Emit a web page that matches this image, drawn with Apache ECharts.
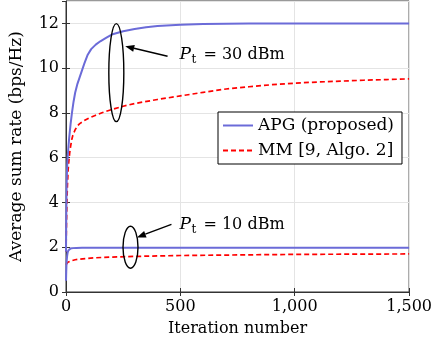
<!DOCTYPE html>
<html>
<head>
<meta charset="utf-8">
<script src="https://cdn.jsdelivr.net/npm/echarts@6/dist/echarts.min.js"></script>
<style>
  html, body { margin: 0; padding: 0; background: #fff; }
  #chart { width: 435px; height: 349px; }
</style>
</head>
<body>
<div id="chart"></div>
<script>
// data
var itApg30 = [0, 1, 2, 3, 5, 7, 10, 14, 20, 26, 33, 40, 50, 60, 70, 80, 95, 110, 130, 150, 175, 200, 250, 300, 350, 400, 500, 600, 800, 1000, 1250, 1500];
var apg30 = [1.8, 3.2, 4.2, 4.9, 5.6, 6.0, 6.4, 6.9, 7.5, 8.0, 8.5, 8.9, 9.3, 9.6, 9.9, 10.2, 10.6, 10.85, 11.05, 11.2, 11.35, 11.5, 11.65, 11.75, 11.83, 11.88, 11.94, 11.97, 11.99, 12.0, 12.0, 12.0];
var itMm30 = [0, 2, 4, 6, 9, 12, 16, 20, 25, 30, 40, 50, 60, 80, 100, 130, 160, 200, 250, 300, 400, 500, 600, 700, 800, 900, 1000, 1100, 1200, 1300, 1400, 1500];
var mm30 = [1.8, 3.0, 4.0, 4.7, 5.4, 5.8, 6.2, 6.5, 6.8, 7.0, 7.25, 7.42, 7.52, 7.66, 7.77, 7.9, 8.02, 8.15, 8.3, 8.42, 8.6, 8.76, 8.92, 9.07, 9.17, 9.26, 9.33, 9.38, 9.42, 9.46, 9.49, 9.52];
var itApg10 = [0, 1, 2, 3, 5, 7, 10, 14, 20, 30, 45, 70, 150, 500, 1000, 1500];
var apg10 = [0.5, 0.9, 1.2, 1.4, 1.62, 1.75, 1.85, 1.91, 1.94, 1.96, 1.97, 1.98, 1.98, 1.98, 1.98, 1.98];
var itMm10 = [0, 3, 8, 15, 25, 40, 60, 90, 130, 200, 300, 400, 500, 700, 1000, 1250, 1500];
var mm10 = [1.22, 1.28, 1.33, 1.37, 1.40, 1.44, 1.47, 1.5, 1.53, 1.56, 1.59, 1.61, 1.63, 1.65, 1.68, 1.69, 1.7];
var xTicks = [0, 500, 1000, 1500];
var names = ['APG (proposed)', 'MM [9, Algo. 2]'];

function pairs(xs, ys) {
    var out = [];
    for (var i = 0; i < xs.length; i++) out.push([xs[i], ys[i]]);
    return out;
}

var font = 'DejaVu Serif';
var fs = 16;
var blue = '#6b6bd8';
var red = '#ff0000';

var myChart = echarts.init(document.getElementById('chart'));

function mkSeries(name, data, color, dashed) {
    return {
        name: name,
        type: 'line',
        data: data,
        symbol: 'none',
        lineStyle: { color: color, width: dashed ? 1.7 : 2, type: dashed ? [5, 3] : 'solid' },
        itemStyle: { color: color },
        z: dashed ? 3 : 4
    };
}

var option = {
    animation: false,
    grid: { left: 65, right: 23, top: 1, bottom: 57, show: true, borderColor: '#333', borderWidth: 1 },
    legend: {
        data: names,
        orient: 'vertical',
        left: 218, top: 112,
        backgroundColor: '#fff',
        borderColor: '#000', borderWidth: 1,
        padding: [5, 8, 5, 4],
        itemGap: 8,
        itemWidth: 30, itemHeight: 14,
        itemStyle: { opacity: 0 },
        textStyle: { fontFamily: font, fontSize: 17, color: '#000' }
    },
    xAxis: [{
        type: 'value', min: 0, max: 1500, interval: 500,
        name: 'Iteration number', nameLocation: 'middle', nameGap: 29,
        nameTextStyle: { fontFamily: font, fontSize: fs, color: '#000' },
        axisLine: { lineStyle: { color: '#333' } },
        axisTick: { inside: true, length: 4, lineStyle: { color: '#333' } },
        axisLabel: {
            fontFamily: font, fontSize: fs, color: '#000', margin: 7,
            formatter: function (v) { return xTicks.indexOf(v) >= 0 ? v.toLocaleString('en-US') : ''; }
        },
        splitLine: { lineStyle: { color: '#e4e4e4' } }
    }, {
        type: 'value', min: 0, max: 1500, interval: 500, position: 'top',
        axisLine: { show: false },
        axisTick: { inside: true, length: 4, lineStyle: { color: '#333' } },
        axisLabel: { show: false }, splitLine: { show: false }
    }],
    yAxis: [{
        type: 'value', min: 0, max: 13, interval: 2,
        name: 'Average sum rate (bps/Hz)', nameLocation: 'middle', nameGap: 41,
        nameTextStyle: { fontFamily: font, fontSize: 17, color: '#000' },
        axisLine: { show: true, lineStyle: { color: '#333' } },
        axisTick: { show: true, inside: true, length: 4, lineStyle: { color: '#333' } },
        axisLabel: { fontFamily: font, fontSize: fs, color: '#000', margin: 7, showMaxLabel: false },
        splitLine: { lineStyle: { color: '#e4e4e4' } }
    }, {
        type: 'value', min: 0, max: 13, interval: 2, position: 'right',
        axisLine: { show: false },
        axisTick: { show: true, inside: true, length: 4, lineStyle: { color: '#333' } },
        axisLabel: { show: false }, splitLine: { show: false }
    }],
    series: [
        mkSeries(names[0], pairs(itApg30, apg30), blue, false),
        mkSeries(names[1], pairs(itMm30, mm30), red, true),
        mkSeries(names[0], pairs(itApg10, apg10), blue, false),
        mkSeries(names[1], pairs(itMm10, mm10), red, true)
    ]
};
myChart.setOption(option);

// annotations placed in data coordinates
function px(x, y) { return myChart.convertToPixel({ gridIndex: 0 }, [x, y]); }

function annotation(ell, ry, head, tail, textPos, label) {
    var c = px(ell[0], ell[1]);
    var h = px(head[0], head[1]);
    var t = px(tail[0], tail[1]);
    var p = px(textPos[0], textPos[1]);
    var ang = Math.atan2(h[1] - t[1], h[0] - t[0]);
    var L = 9, W = 3.5;
    var bx = h[0] - L * Math.cos(ang), by = h[1] - L * Math.sin(ang);
    var nx = -Math.sin(ang) * W, ny = Math.cos(ang) * W;
    return [
        { type: 'ellipse', shape: { cx: c[0], cy: c[1], rx: 7.5, ry: ry }, style: { fill: null, stroke: '#000', lineWidth: 1.4 }, z: 10 },
        { type: 'line', shape: { x1: t[0], y1: t[1], x2: bx, y2: by }, style: { stroke: '#000', lineWidth: 1.4 }, z: 10 },
        { type: 'polygon', shape: { points: [[h[0], h[1]], [bx + nx, by + ny], [bx - nx, by - ny]] }, style: { fill: '#000' }, z: 10 },
        { type: 'text', x: p[0], y: p[1], style: { text: 'P', font: 'italic 17px ' + font, fill: '#000', verticalAlign: 'middle' }, z: 10 },
        { type: 'text', x: p[0] + 12, y: p[1] + 5, style: { text: 't', font: '12px ' + font, fill: '#000', verticalAlign: 'middle' }, z: 10 },
        { type: 'text', x: p[0] + 24, y: p[1], style: { text: '= ' + label, font: fs + 'px ' + font, fill: '#000', verticalAlign: 'middle' }, z: 10 }
    ];
}

var g = [].concat(
    annotation([220, 9.8], 49, [259, 10.98], [444, 10.53], [496, 10.6], '30 dBm'),
    annotation([282, 2.0], 21, [310, 2.44], [461, 3.02], [496, 3.0], '10 dBm')
);
myChart.setOption({ graphic: g });
</script>
</body>
</html>
